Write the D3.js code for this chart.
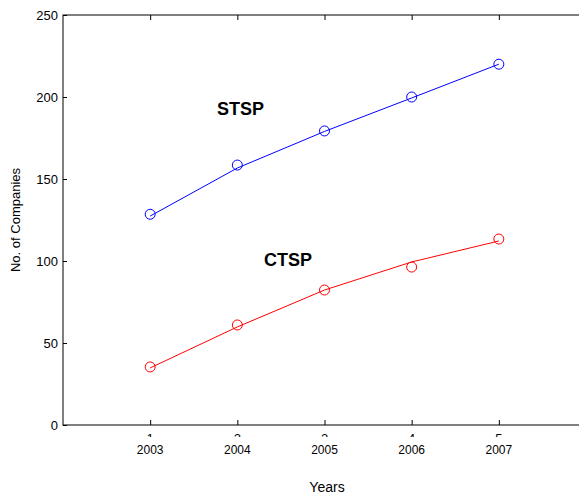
<!DOCTYPE html>
<html>
  <head>
    <meta charset="utf-8">
    <style>
      body { margin: 0; background: #fff; }
      text { font-family: Arial, "Liberation Sans", sans-serif; }
    </style>
  </head>
  <body>
    <div class="chart-container"></div>
    <script src="https://cdn.jsdelivr.net/npm/d3@7"></script>
    <script>

var years = [2003, 2004, 2005, 2006, 2007];
var tickIndex = ['1', '2', '3', '4', '5'];

// observed counts (markers)
var stspObserved = [128.5, 158.5, 179.3, 200, 220];
var ctspObserved = [35.4, 61, 82.3, 96.3, 113.4];

// fitted trend (lines)
var stspFitted = [127.4, 156.7, 179, 199.4, 220];
var ctspFitted = [34.8, 59.8, 82.3, 99.4, 112.2];

var yTicks = [0, 50, 100, 150, 200, 250];

var width = 579;
var height = 495;
var plotLeft = 63, plotTop = 15, plotBottom = 425;

var x = d3.scaleLinear()
    .domain([2002, 2008])
    .range([plotLeft, 586]);

var y = d3.scaleLinear()
    .domain([0, 250])
    .range([plotBottom, plotTop]);

var svg = d3.select('.chart-container').append('svg')
    .attr('width', width)
    .attr('height', height);

// box
svg.append('rect')
  .attr('x', x(2002))
  .attr('y', y(250))
  .attr('width', x(2008) - x(2002))
  .attr('height', y(0) - y(250))
  .attr('fill', 'none')
  .attr('stroke', '#000')
  .attr('stroke-width', 1);

// y axis, ticks inward
var yAxis = svg.append('g')
  .attr('transform', 'translate(' + plotLeft + ',0)')
  .call(d3.axisRight(y).tickValues(yTicks).tickSize(4).tickFormat(''));
yAxis.select('.domain').remove();

svg.append('g').selectAll('text')
  .data(yTicks)
  .enter().append('text')
    .attr('x', plotLeft - 5)
    .attr('y', function (d) { return y(d) + 5; })
    .attr('text-anchor', 'end')
    .attr('font-size', 13)
    .text(function (d) { return d; });

// bottom + top ticks
var bAxis = svg.append('g')
  .attr('transform', 'translate(0,' + plotBottom + ')')
  .call(d3.axisTop(x).tickValues(years).tickSize(5).tickFormat(''));
bAxis.select('.domain').remove();

var tAxis = svg.append('g')
  .attr('transform', 'translate(0,' + plotTop + ')')
  .call(d3.axisBottom(x).tickValues(years).tickSize(5).tickFormat(''));
tAxis.select('.domain').remove();

// hidden default tick labels, only their tops peek out
svg.append('clipPath')
  .attr('id', 'peek')
  .append('rect')
    .attr('x', 0).attr('y', plotBottom + 7)
    .attr('width', width).attr('height', 5);

svg.append('g')
  .attr('clip-path', 'url(#peek)')
  .selectAll('text')
  .data(years)
  .enter().append('text')
    .attr('x', function (d) { return x(d); })
    .attr('y', plotBottom + 18)
    .attr('text-anchor', 'middle')
    .attr('font-size', 13)
    .text(function (d, i) { return tickIndex[i]; });

svg.append('g').selectAll('text')
  .data(years)
  .enter().append('text')
    .attr('x', function (d) { return x(d); })
    .attr('y', plotBottom + 29)
    .attr('text-anchor', 'middle')
    .attr('font-size', 12)
    .text(function (d) { return d; });

// axis titles
svg.append('text')
  .attr('x', 327)
  .attr('y', 492)
  .attr('text-anchor', 'middle')
  .attr('font-size', 14)
  .text('Years');

svg.append('text')
  .attr('transform', 'translate(20,' + 220 + ') rotate(-90)')
  .attr('text-anchor', 'middle')
  .attr('font-size', 13)
  .text('No. of Companies');

var line = d3.line()
    .x(function (d, i) { return x(years[i]); })
    .y(function (d) { return y(d); });

function series(fitted, observed, color) {
  svg.append('path')
    .datum(fitted)
    .attr('d', line)
    .attr('fill', 'none')
    .attr('stroke', color)
    .attr('stroke-width', 1);

  svg.append('g').selectAll('circle')
    .data(observed)
    .enter().append('circle')
      .attr('cx', function (d, i) { return x(years[i]); })
      .attr('cy', function (d) { return y(d); })
      .attr('r', 5)
      .attr('fill', 'none')
      .attr('stroke', color)
      .attr('stroke-width', 1);
}

series(stspFitted, stspObserved, '#0000ff');
series(ctspFitted, ctspObserved, '#ff0000');

svg.append('text')
  .attr('x', 217)
  .attr('y', 115)
  .attr('font-size', 18)
  .attr('font-weight', 'bold')
  .text('STSP');

svg.append('text')
  .attr('x', 264)
  .attr('y', 266)
  .attr('font-size', 18)
  .attr('font-weight', 'bold')
  .text('CTSP');

    </script>
  </body>
</html>
